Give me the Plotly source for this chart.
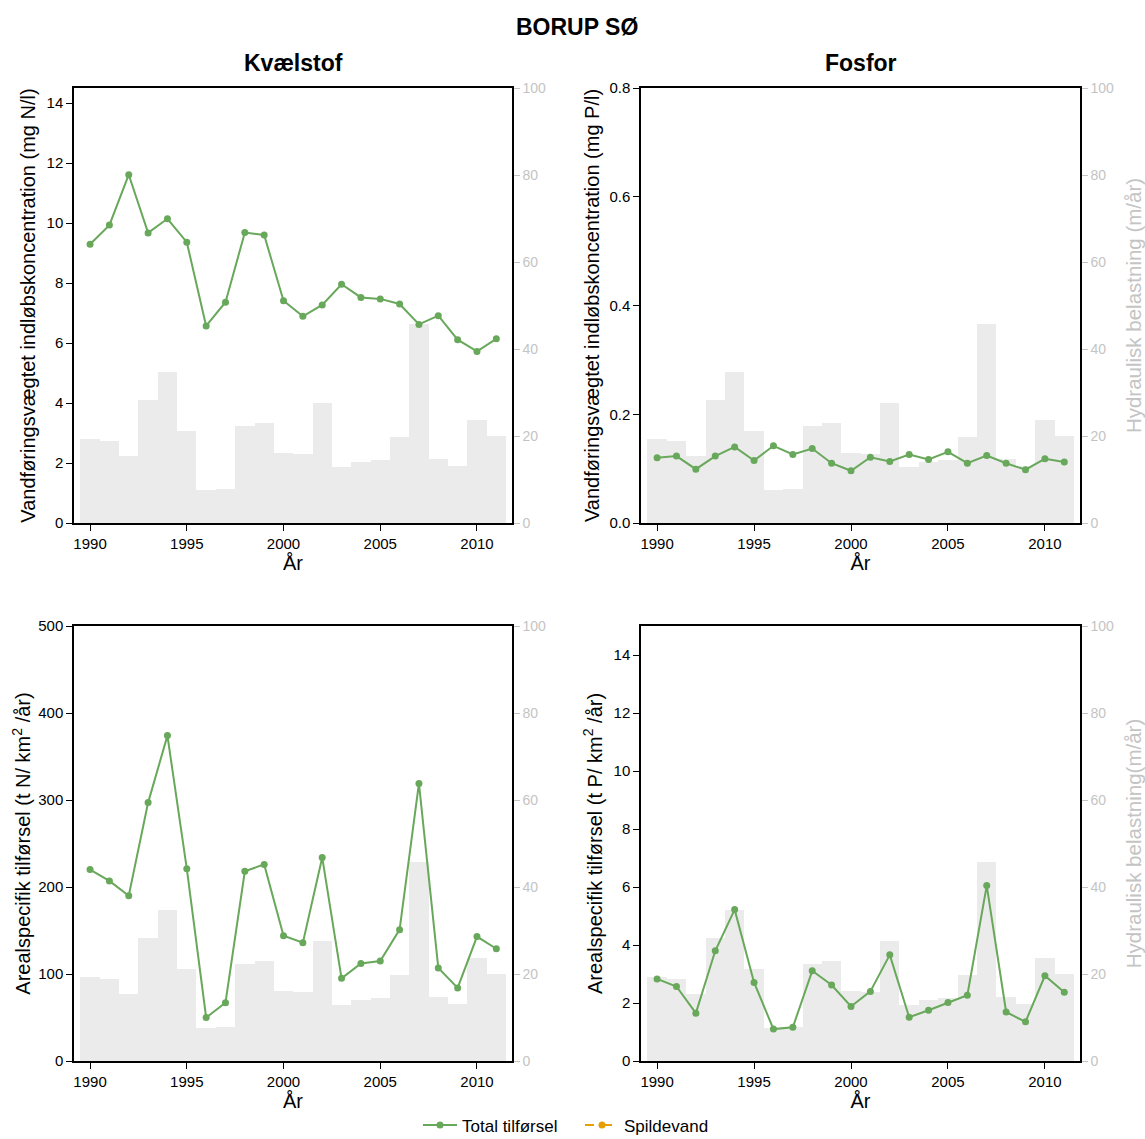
import plotly.graph_objects as go

years = list(range(1990, 2012))

# Hydraulic load (m/år), shown as grey bars in every panel
hydraulic = [19.2, 18.9, 15.5, 28.3, 34.6, 21.2, 7.7, 7.9, 22.3, 23.1, 16.0,
             15.8, 27.6, 12.8, 14.0, 14.4, 19.8, 45.8, 14.6, 13.1, 23.7, 19.9]

# Flow-weighted inlet concentration
n_conc = [9.29, 9.93, 11.61, 9.67, 10.14, 9.36, 6.57, 7.36, 9.68, 9.60, 7.41,
          6.89, 7.27, 7.96, 7.52, 7.47, 7.30, 6.62, 6.91, 6.11, 5.72, 6.14]
p_conc = [0.120, 0.123, 0.099, 0.123, 0.140, 0.115, 0.142, 0.126, 0.137, 0.110, 0.096,
          0.121, 0.113, 0.126, 0.117, 0.131, 0.110, 0.124, 0.110, 0.098, 0.118, 0.112]

# Area-specific load
n_load = [220, 207, 190, 297, 374, 221, 50, 67, 218, 226, 144,
          136, 234, 95, 112, 115, 151, 319, 107, 84, 143, 129]
p_load = [2.83, 2.57, 1.65, 3.80, 5.22, 2.71, 1.10, 1.16, 3.11, 2.62, 1.88,
          2.40, 3.66, 1.51, 1.75, 2.02, 2.27, 6.05, 1.69, 1.35, 2.94, 2.37]

x_ticks = [1990, 1995, 2000, 2005, 2010]

GREEN = "#68a85a"
ORANGE = "#e69f00"
BAR = "#ebebeb"
GREY_TXT = "#c4c4c4"
FONT = "Liberation Sans, Arial, sans-serif"

W, H = 1145, 1139

def fx(px):
    return px / W

def fy(py):
    return 1 - py / H

panels = [
    dict(x=(74, 512), y=(88, 523), data=n_conc, rng=[0, 14.5], dtick=2, fmt="d",
         ytitle="Vandføringsvægtet indløbskoncentration (mg N/l)", rtitle=None,
         standoff=6),
    dict(x=(641, 1080), y=(88, 523), data=p_conc, rng=[0, 0.8], dtick=0.2, fmt=".1f",
         ytitle="Vandføringsvægtet indløbskoncentration (mg P/l)",
         rtitle="Hydraulisk belastning (m/år)", standoff=4),
    dict(x=(74, 512), y=(626, 1061), data=n_load, rng=[0, 500], dtick=100, fmt="d",
         ytitle="Arealspecifik tilførsel (t N/ km<sup>2</sup> /år)", rtitle=None,
         standoff=2),
    dict(x=(641, 1080), y=(626, 1061), data=p_load, rng=[0, 15], dtick=2, fmt="d",
         ytitle="Arealspecifik tilførsel (t P/ km<sup>2</sup> /år)",
         rtitle="Hydraulisk belastning(m/år)", standoff=6),
]

fig = go.Figure()
layout = {}

for k, p in enumerate(panels, start=1):
    xa = f"x{k}"
    yb = f"y{2 * k - 1}"   # right-hand hydraulic axis (bars, drawn underneath)
    yo = f"y{2 * k}"       # left-hand concentration/load axis (line, on top)

    fig.add_trace(go.Bar(x=years, y=hydraulic, xaxis=xa, yaxis=yb, width=1.0,
                         marker=dict(color=BAR, line=dict(width=0)),
                         showlegend=False, hoverinfo="skip"))
    fig.add_trace(go.Scatter(x=years, y=p["data"], xaxis=xa, yaxis=yo,
                             mode="lines+markers", name="Total tilførsel",
                             line=dict(color=GREEN, width=2),
                             marker=dict(color=GREEN, size=7),
                             showlegend=(k == 1), legendrank=1))

    dom_x = [fx(p["x"][0]), fx(p["x"][1])]
    dom_y = [fy(p["y"][1]), fy(p["y"][0])]

    layout[f"xaxis{k}"] = dict(
        domain=dom_x, anchor=yb, range=[1989.17, 2011.81], automargin=False,
        tickmode="array", tickvals=x_ticks, ticks="outside", ticklen=6,
        tickcolor="black", showline=True, mirror=True, linecolor="black",
        linewidth=1.5, showgrid=False, zeroline=False,
        tickfont=dict(size=15, color="black"),
        title=dict(text="År", font=dict(size=20, color="black"), standoff=2),
    )
    right = dict(
        domain=dom_y, anchor=xa, side="right", range=[0, 100], dtick=20,
        automargin=False,
        ticks="outside", ticklen=6, tickcolor=GREY_TXT,
        showline=True, linecolor="black", linewidth=1.5,
        showgrid=False, zeroline=False,
        tickfont=dict(size=14, color=GREY_TXT),
    )
    if p["rtitle"]:
        right["title"] = dict(text=p["rtitle"], font=dict(size=20.5, color=GREY_TXT),
                              standoff=14)
    layout[f"yaxis{2 * k - 1}"] = right
    layout[f"yaxis{2 * k}"] = dict(
        domain=dom_y, anchor=xa, side="left", overlaying=yb, range=p["rng"],
        automargin=False,
        dtick=p["dtick"], tickformat=p["fmt"], ticks="outside", ticklen=6,
        tickcolor="black", showline=True, linecolor="black", linewidth=1.5,
        showgrid=False, zeroline=False,
        tickfont=dict(size=15, color="black"),
        title=dict(text=p["ytitle"], font=dict(size=20, color="black"),
                   standoff=p["standoff"]),
    )

# Legend-only entry for the wastewater series
fig.add_trace(go.Scatter(x=[None], y=[None], xaxis="x1", yaxis="y2",
                         mode="lines+markers", name="Spildevand",
                         line=dict(color=ORANGE, width=2, dash="dash"),
                         marker=dict(color=ORANGE, size=7), legendrank=2))

annotations = [
    dict(text="<b>BORUP SØ</b>", x=fx(577), y=fy(27), xref="paper", yref="paper",
         xanchor="center", yanchor="middle",
         showarrow=False, font=dict(size=23, color="black")),
    dict(text="<b>Kvælstof</b>", x=fx(293), y=fy(63), xref="paper", yref="paper",
         xanchor="center", yanchor="middle",
         showarrow=False, font=dict(size=23, color="black")),
    dict(text="<b>Fosfor</b>", x=fx(861), y=fy(63), xref="paper", yref="paper",
         xanchor="center", yanchor="middle",
         showarrow=False, font=dict(size=23, color="black")),
]

fig.update_layout(
    width=W, height=H,
    margin=dict(l=0, r=0, t=0, b=0, autoexpand=False),
    paper_bgcolor="white", plot_bgcolor="white",
    font=dict(family=FONT, color="black"),
    bargap=0, barmode="overlay",
    showlegend=True,
    legend=dict(orientation="h", x=fx(418), xanchor="left", y=-0.004, yanchor="bottom",
                font=dict(size=17, color="black"), bgcolor="rgba(0,0,0,0)",
                itemwidth=34, tracegroupgap=0,
                entrywidth=113, entrywidthmode="pixels"),
    annotations=annotations,
    **layout,
)

fig.write_html("out.html")
